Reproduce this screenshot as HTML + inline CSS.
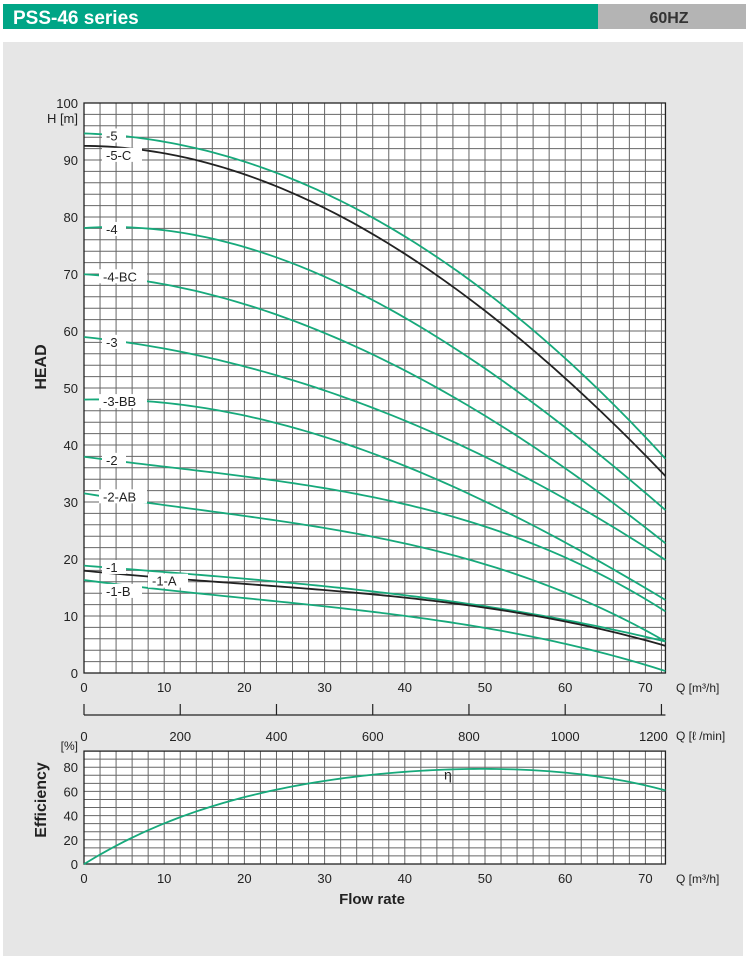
<!DOCTYPE html>
<html><head><meta charset="utf-8"><style>
body{margin:0;width:746px;height:956px;background:#fff;overflow:hidden;font-family:"Liberation Sans",sans-serif}
</style></head><body>
<svg id="c" width="746" height="956" xmlns="http://www.w3.org/2000/svg" font-family="Liberation Sans, sans-serif">
<rect x="3" y="4" width="595" height="25" fill="#00a586"/>
<rect x="598" y="4" width="148" height="25" fill="#b4b4b4"/>
<text x="13" y="24" font-size="19" font-weight="bold" fill="#fff">PSS-46 series</text>
<text x="669" y="23" font-size="16" font-weight="bold" fill="#333" text-anchor="middle">60HZ</text>
<rect x="3" y="42" width="740" height="914" fill="#e6e6e6"/>
<g id="g"></g>
</svg>
<script>
const qPoints=[0,10,20,30,40,49.4,55,60,65,72.5];
const curveNames=["-5","-5-C","-4","-4-BC","-3","-3-BB","-2","-2-AB","-1","-1-A","-1-B"];
const h5=[94.5,93.5,89.8,84,76.3,67.2,62.3,55.4,47.9,37.7];
const h5C=[92.3,91.5,87.5,81.5,73.5,63.7,57.9,52,45.6,34.2];
const h4=[78.1,77.7,74.6,69.5,62.5,54,48.5,43.2,37,28.8];
const h4BC=[69.8,68.4,64.9,59.5,53,45.3,40.5,36.1,31.6,22.3];
const h3=[58.3,57.9,54.6,48.5,43.5,37.9,34.8,31.6,26.8,19.1];
const h3BB=[47.9,47.3,45.8,41,36,30.4,27,23.3,18.6,12.8];
const h2=[37.6,36.7,34.9,32,29,25.8,23.5,21,16.8,10.5];
const h2AB=[31.2,30,27.8,25,22.3,19.3,17,14.6,11,5.3];
const h1=[18.8,17.8,16.6,15,13.7,11.9,10.7,9.3,7.7,5.6];
const h1A=[17.9,16.8,15.7,14.3,13.2,11.8,10.5,9,7.2,4.9];
const h1B=[16.2,14.8,13.2,11.6,9.9,7.9,6.7,5.3,3.5,0.2];
const effQ=[0,5,10,20,30,40,48,55,60,65,72.5];
const effVals=[0,17.5,35,54.5,68.5,76.5,78.5,78,75.5,71,61];
const xTicks=[0,10,20,30,40,50,60,70];
const yTicks=[0,10,20,30,40,50,60,70,80,90,100];
const lTicks=[0,200,400,600,800,1000,1200];
const effTicks=[0,20,40,60,80];

const NS="http://www.w3.org/2000/svg";
const g=document.getElementById('g');
const X0=84,XS=8.02,QMAX=72.5;
const x=q=>X0+q*XS;
const y=h=>673-h*5.7;
const ye=e=>864-e*1.21;
function el(t,a,p){const e=document.createElementNS(NS,t);for(const k in a)e.setAttribute(k,a[k]);(p||g).appendChild(e);return e;}
// least-squares cubic fit through the data points, used only for smooth drawing
function fit(xs,ys,deg){const n=deg+1;const A=[];for(let i=0;i<n;i++){A.push(new Array(n+1).fill(0));}
xs.forEach((xv,k)=>{const s=xv/72.5;for(let i=0;i<n;i++){for(let j=0;j<n;j++)A[i][j]+=Math.pow(s,i+j);A[i][n]+=ys[k]*Math.pow(s,i);}});
for(let i=0;i<n;i++){let m=i;for(let r=i+1;r<n;r++)if(Math.abs(A[r][i])>Math.abs(A[m][i]))m=r;[A[i],A[m]]=[A[m],A[i]];
for(let r=0;r<n;r++)if(r!==i){const f=A[r][i]/A[i][i];for(let c=i;c<=n;c++)A[r][c]-=f*A[i][c];}}
const co=A.map((row,i)=>row[n]/row[i]);return q=>co.reduce((s,c,i)=>s+c*Math.pow(q/72.5,i),0);}
function curvePath(xs,ys,sx,sy,deg){const f=fit(xs,ys,deg);let d="";const x1=xs[xs.length-1];
for(let i=0;i<=100;i++){const q=x1*i/100;d+=(i?"L":"M")+sx(q).toFixed(2)+","+sy(f(q)).toFixed(2);}return d;}

// main plot
let r=el('rect',{x:x(0),y:y(100),width:x(QMAX)-x(0),height:y(0)-y(100),fill:'#fff'});

for(let q=2;q<QMAX;q+=2){const l=el('line',{x1:x(q),x2:x(q),y1:y(100),y2:y(0),stroke:'#666','stroke-width':1});}
for(let h=2;h<100;h+=2){const l=el('line',{x1:x(0),x2:x(QMAX),y1:y(h),y2:y(h),stroke:'#666','stroke-width':1});}
r=el('rect',{x:x(0),y:y(100),width:x(QMAX)-x(0),height:y(0)-y(100),fill:'none',stroke:'#222','stroke-width':1.3});

const series=[h5,h5C,h4,h4BC,h3,h3BB,h2,h2AB,h1,h1A,h1B];
const black=["-5-C","-1-A"];
series.forEach((s,i)=>{const p=el('path',{d:curvePath(qPoints,s,x,y,3),fill:'none',stroke:black.includes(curveNames[i])?'#222':'#17a97b','stroke-width':1.8});
});
const labX=[104,104,104,101,104,101,104,101,104,150,104];
series.forEach((s,i)=>{const nm=curveNames[i];const w=nm.length*8+8;const lx=labX[i];
const h=i==9?s[1]-0.6:(i==10?s[0]-1.8:(i==1?s[0]-1.4:s[0]-0.2));
const bg=el('rect',{x:lx-2,y:y(h)-7,width:w,height:14,fill:'#fff'});
const t=el('text',{x:lx+2,y:y(h)+5,'font-size':13,fill:'#222'});t.textContent=nm;});
yTicks.forEach(v=>{const t=el('text',{x:78,y:y(v)+5,'font-size':13,'text-anchor':'end',fill:'#222'});t.textContent=v;});
xTicks.forEach(v=>{const t=el('text',{x:x(v),y:692,'font-size':13,'text-anchor':'middle',fill:'#222'});t.textContent=v;});
let t=el('text',{x:78,y:123,'font-size':13,'text-anchor':'end',fill:'#222'});t.textContent='H [m]';
t=el('text',{x:676,y:692,'font-size':12,fill:'#222'});t.textContent='Q [m³/h]';
t=el('text',{x:0,y:0,'font-size':16,'font-weight':'bold','text-anchor':'middle',fill:'#222',transform:'translate(46,367) rotate(-90)'});t.textContent='HEAD';

// l/min axis
let l=el('line',{x1:x(0),x2:x(QMAX),y1:715,y2:715,stroke:'#222','stroke-width':1.2});
lTicks.forEach(v=>{const xx=x(v*0.06);const k=el('line',{x1:xx,x2:xx,y1:704,y2:715,stroke:'#222','stroke-width':1.2});
const tt=el('text',{x:v==1200?xx-8:xx,y:741,'font-size':13,'text-anchor':'middle',fill:'#222'});tt.textContent=v;});
t=el('text',{x:676,y:740,'font-size':12,fill:'#222'});t.textContent='Q [ℓ /min]';

// efficiency
const ETOP=93.3;
r=el('rect',{x:x(0),y:ye(ETOP),width:x(QMAX)-x(0),height:ye(0)-ye(ETOP),fill:'#fff'});
for(let q=2;q<QMAX;q+=2){const k=el('line',{x1:x(q),x2:x(q),y1:ye(ETOP),y2:ye(0),stroke:'#666','stroke-width':1});}
for(let i=1;i<14;i++){const e=i*20/3;const k=el('line',{x1:x(0),x2:x(QMAX),y1:ye(e),y2:ye(e),stroke:'#666','stroke-width':1});}
r=el('rect',{x:x(0),y:ye(ETOP),width:x(QMAX)-x(0),height:ye(0)-ye(ETOP),fill:'none',stroke:'#222','stroke-width':1.3});
let p=el('path',{d:curvePath(effQ,effVals,x,ye,4),fill:'none',stroke:'#17a97b','stroke-width':1.8});
t=el('text',{x:444,y:ye(70),'font-size':14,fill:'#222'});t.textContent='η';
effTicks.forEach(v=>{const tt=el('text',{x:78,y:ye(v)+5,'font-size':13,'text-anchor':'end',fill:'#222'});tt.textContent=v;});
xTicks.forEach(v=>{const tt=el('text',{x:x(v),y:883,'font-size':13,'text-anchor':'middle',fill:'#222'});tt.textContent=v;});
t=el('text',{x:78,y:750,'font-size':12,'text-anchor':'end',fill:'#222'});t.textContent='[%]';
t=el('text',{x:676,y:883,'font-size':12,fill:'#222'});t.textContent='Q [m³/h]';
t=el('text',{x:0,y:0,'font-size':16,'font-weight':'bold','text-anchor':'middle',fill:'#222',transform:'translate(46,800) rotate(-90)'});t.textContent='Efficiency';
t=el('text',{x:372,y:904,'font-size':15,'font-weight':'bold','text-anchor':'middle',fill:'#222'});t.textContent='Flow rate';
</script>
</body></html>
